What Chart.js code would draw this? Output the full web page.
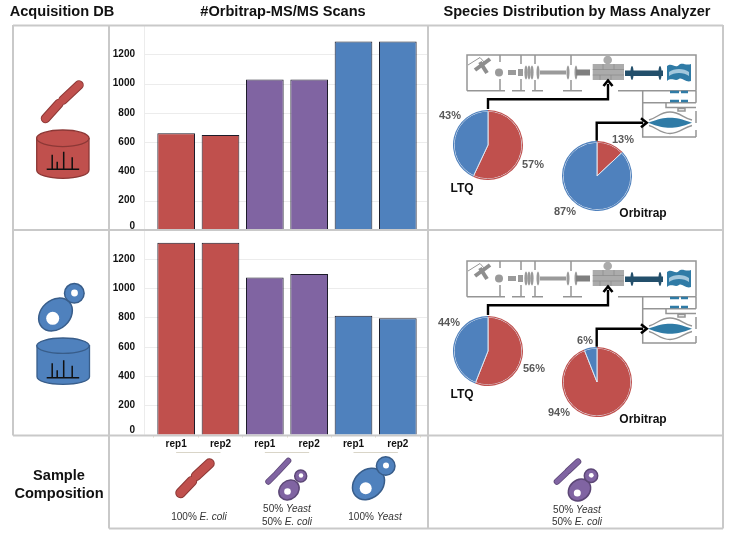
<!DOCTYPE html>
<html>
<head>
<meta charset="utf-8">
<title>Orbitrap MS/MS scans</title>
<script src="https://cdn.jsdelivr.net/npm/chart.js@4/dist/chart.umd.min.js"></script>
<style>
    html, body { margin: 0; padding: 0; background: #fff; }
    body { position: relative; width: 730px; height: 535px; overflow: hidden; font-family: "Liberation Sans", Arial, sans-serif; }
    canvas, svg { position: absolute; }
    .txt { position: absolute; white-space: nowrap; transform: translate(-50%, -50%); }
    .head { font-weight: bold; font-size: 14.6px; color: #111; }
    .side { font-weight: bold; font-size: 14.6px; color: #111; }
    .pct { font-weight: bold; font-size: 11px; color: #595959; }
    .name { font-weight: bold; font-size: 12px; color: #111; }
    .note { font-size: 10px; color: #333; }
    .note i { font-style: italic; }
</style>
</head>
<body>

<canvas id="barTop" width="318" height="215" style="left:110px;top:20px"></canvas>
<canvas id="barBottom" width="318" height="240" style="left:110px;top:225px"></canvas>
<canvas id="pieLtqTop" width="70" height="70" style="left:453px;top:110px"></canvas>
<canvas id="pieOrbiTop" width="70" height="70" style="left:562px;top:141px"></canvas>
<canvas id="pieLtqBottom" width="70" height="70" style="left:453px;top:316px"></canvas>
<canvas id="pieOrbiBottom" width="70" height="70" style="left:562px;top:347px"></canvas>

<svg width="730" height="535" style="left:0;top:0">
    <defs>
        <!-- mass spec schematic, drawn once and reused for both rows -->
        <g id="instrument" fill="none">
            <g stroke="#959595" stroke-width="1.5">
                <path d="M467 90.7V55H696V90.7"/>
                <path d="M467 90.7H505M512 90.7H525M532 90.7H543M563 90.7H582M618 90.7H696"/>
                <path d="M500 55V62M500 79V90.7M521 55V64M521 79V90.7M535 55V64M535 80V90.7M571 55V65M571 80V90.7"/>
                <path d="M642.7 90.7V137H696M642.7 102.7H696M696 90.7V102.7M696 111V123M696 130V137"/>
                <path d="M666 102.7V107.5H696M678 108.5H685V111H678Z"/>
                <path d="M468 65L480 57.5L485 63" stroke-width="1"/>
                <path d="M649 120C657 118 660 112 670 112C680 112 683 118 692 120" stroke-width="1.4"/>
                <path d="M649 125.500C657 127.500 660 133.500 670 133.500C680 133.500 683 127.500 692 125.500" stroke-width="1.4"/>
            </g>
            <g stroke="#8e8e8e" stroke-width="4">
                <path d="M475 70L490 59"/>
                <path d="M480 62L487 73"/>
            </g>
            <g fill="#9a9a9a">
                <circle cx="499" cy="72.5" r="4"/>
                <rect x="508" y="70" width="8" height="5"/>
                <rect x="518" y="69" width="5" height="7"/>
                <ellipse cx="526" cy="72.5" rx="1.6" ry="7"/>
                <ellipse cx="529" cy="72.5" rx="1.6" ry="7"/>
                <ellipse cx="532" cy="72.5" rx="1.6" ry="7"/>
                <ellipse cx="538" cy="72.5" rx="1.5" ry="7"/>
                <rect x="540" y="70.5" width="26" height="4"/>
                <ellipse cx="568" cy="72.5" rx="1.5" ry="7"/>
                <ellipse cx="576" cy="72.5" rx="1.5" ry="7"/>
                <rect x="576" y="69.5" width="14" height="6" fill="#7f7f7f"/>
                <circle cx="607.7" cy="60" r="4.3" fill="#ababab"/>
                <rect x="592.7" y="64" width="31.3" height="16" fill="#ababab"/>
            </g>
            <path d="M592.7 69.5H624M592.7 75H624M603 64V69.5M614 64V69.5M600 75V80M611 75V80" stroke="#8a8a8a" stroke-width="0.7"/>
            <rect x="625" y="70.5" width="38" height="5.5" fill="#234f6b"/>
            <ellipse cx="632" cy="73" rx="1.6" ry="7" fill="#234f6b"/>
            <ellipse cx="660" cy="73" rx="1.6" ry="7" fill="#234f6b"/>
            <path d="M667 66C672 62 675 69 679 65C682 62 686 66 691 64V81C686 83 682 77 679 79C675 82 672 77 667 81Z" fill="#2f7ba6"/>
            <path d="M669 72C674 68 684 68 689 72V76C684 72 674 72 669 76Z" fill="#a3c7dc"/>
            <path d="M670 92H679M681 92H688M670 101H679M681 101H688" stroke="#2f7ba6" stroke-width="2.4"/>
            <path d="M648 122.7C658 119 664 117.700 670 117.700C676 117.700 682 119 692 122.700C682 126.500 676 127.700 670 127.700C664 127.700 658 126.500 648 122.700Z" fill="#2f7ba6"/>

            <!-- arrows from the pies up to the analyzers -->
            <g stroke="#000" stroke-width="2.4">
                <path d="M488 109V99.3H608V84"/>
                <path d="M603.5 86L608 80.5L612.5 86" stroke-width="2.6"/>
                <path d="M596.7 140.7V122.7H643"/>
                <path d="M641 118.2L646.7 122.7L641 127.2" stroke-width="2.6"/>
            </g>
        </g>

        <g id="peaks" stroke="#111" stroke-width="1.5" fill="none">
            <path d="M0 0H32.5M5.5 0V-14.5M10.500 0V-7.500M17 0V-17.500M25.500 0V-12"/>
        </g>
    </defs>

    <use href="#instrument"/>
    <use href="#instrument" y="206"/>

    <!-- database cylinders -->
    <g stroke="#8c3836" stroke-width="1.3" fill="#c0504d">
        <path d="M36.700 138.300V170C36.700 174.800 48 178.300 62.800 178.300S89 174.800 89 170V138.300Z"/>
        <ellipse cx="62.800" cy="138.300" rx="26.200" ry="8.300"/>
    </g>
    <use href="#peaks" x="46.700" y="169.300"/>
    <g stroke="#385d8a" stroke-width="1.300" fill="#4f81bd">
        <path d="M37 345.700V376.700C37 381 48 384.300 63 384.300S89.500 381 89.500 376.700V345.700Z"/>
        <ellipse cx="63" cy="345.700" rx="26.200" ry="7.700"/>
    </g>
    <use href="#peaks" x="46.700" y="377.700"/>

    <!-- bacteria -->
    <g fill="none" stroke-linecap="round">
        <path d="M45.500 118.500L59 103.500M63 100L79 85" stroke="#8c3836" stroke-width="9.500"/>
        <path d="M45.500 118.500L59 103.500M63 100L79 85" stroke="#c0504d" stroke-width="7.500"/>
        <path d="M180.500 493L192 481M196 476L209.500 463.500" stroke="#8c3836" stroke-width="10.500"/>
        <path d="M180.500 493L192 481M196 476L209.500 463.500" stroke="#c0504d" stroke-width="8.500"/>
        <path d="M268.300 481.700L275 475M276.700 473.300L288.300 460.700" stroke="#5c4776" stroke-width="6"/>
        <path d="M268.300 481.700L275 475M276.700 473.300L288.300 460.700" stroke="#8064a2" stroke-width="4.500"/>
        <path d="M557 481.500L566 473M568 471L578 461.700" stroke="#5c4776" stroke-width="6.500"/>
        <path d="M557 481.500L566 473M568 471L578 461.700" stroke="#8064a2" stroke-width="5"/>
    </g>

    <!-- yeast cells -->
    <g stroke="#385d8a" stroke-width="1.500" fill="#4f81bd">
        <ellipse cx="55.500" cy="314.500" rx="18.500" ry="14.500" transform="rotate(-42 55.500 314.500)"/>
        <circle cx="74.300" cy="293.300" r="9.800"/>
        <ellipse cx="368.500" cy="484" rx="17.500" ry="14" transform="rotate(-42 368.500 484)"/>
        <circle cx="385.700" cy="466" r="9.300"/>
    </g>
    <g stroke="#5c4776" stroke-width="1.500" fill="#8064a2">
        <ellipse cx="289" cy="490" rx="11" ry="9" transform="rotate(-42 289 490)"/>
        <circle cx="300.700" cy="476" r="6"/>
        <ellipse cx="579.500" cy="490" rx="12" ry="10" transform="rotate(-42 579.500 490)"/>
        <circle cx="591" cy="475.700" r="6.700"/>
    </g>
    <g fill="#fff">
        <circle cx="74.500" cy="293" r="3.400"/>
        <circle cx="52.700" cy="318.300" r="6.500"/>
        <circle cx="386" cy="465.500" r="3"/>
        <circle cx="365.700" cy="488.300" r="6"/>
        <circle cx="301" cy="475.500" r="2.200"/>
        <circle cx="287.500" cy="491.500" r="3.300"/>
        <circle cx="591.300" cy="475.300" r="2.400"/>
        <circle cx="577.300" cy="493" r="3.500"/>
    </g>

    <!-- table frame -->
    <path d="M13 25.500H723M13 230H723M13 435.500H723M109 528.500H723M13 25V435.500M109 25V528.500M428 25V528.500M723 25V528.500"
          stroke="#c9c9c9" stroke-width="2" fill="none"/>
</svg>

<script>
// 1. Chart data
const repLabels = ['rep1', 'rep2', 'rep1', 'rep2', 'rep1', 'rep2'];
const scansEcoliDb = [660, 648, 1028, 1028, 1288, 1288];
const scansYeastDb = [1310, 1310, 1072, 1097, 812, 795];
const yTicks = [0, 200, 400, 600, 800, 1000, 1200];
const yMax = 1400;
const pieLtqEcoliDb = [57, 43];
const pieOrbiEcoliDb = [13, 87];
const pieLtqYeastDb = [56, 44];
const pieOrbiYeastDb = [94, 6];

// 2. Colours
const RED = '#C0504D';
const PURPLE = '#8064A2';
const BLUE = '#4F81BD';
const barColors = [RED, RED, PURPLE, PURPLE, BLUE, BLUE];
const FONT = 'Liberation Sans';

// Gridlines run wider than the category band, so they are drawn here from the y scale
const wideGrid = {
    id: 'wideGrid',
    beforeDatasetsDraw(chart) {
        const { ctx, scales } = chart;
        ctx.save();
        ctx.strokeStyle = '#ececec';
        ctx.lineWidth = 1;
        yTicks.forEach(t => {
            const y = Math.round(scales.y.getPixelForValue(t)) + 0.5;
            ctx.beginPath();
            ctx.moveTo(34, y);
            ctx.lineTo(chart.width, y);
            ctx.stroke();
        });
        ctx.beginPath();
        ctx.moveTo(34.5, scales.y.getPixelForValue(yMax));
        ctx.lineTo(34.5, scales.y.getPixelForValue(0));
        ctx.stroke();
        ctx.restore();
    }
};

// Light bracket under each pair of replicates
const repBrackets = {
    id: 'repBrackets',
    afterDraw(chart) {
        const { ctx, scales } = chart;
        ctx.save();
        ctx.strokeStyle = '#d9d5c8';
        ctx.lineWidth = 1;
        [[0, 1], [2, 3], [4, 5]].forEach(pair => {
            ctx.beginPath();
            ctx.moveTo(scales.x.getPixelForValue(pair[0]), 227.5);
            ctx.lineTo(scales.x.getPixelForValue(pair[1]), 227.5);
            ctx.stroke();
        });
        ctx.restore();
    }
};

function barChart(id, values, showLabels, padTop, padBottom, xHeight) {
    new Chart(document.getElementById(id), {
        type: 'bar',
        data: {
            labels: repLabels,
            datasets: [{
                data: values,
                backgroundColor: barColors,
                borderColor: '#1c1c2a',
                borderWidth: 1,
                barPercentage: 0.85,
                categoryPercentage: 1
            }]
        },
        options: {
            responsive: false,
            animation: false,
            layout: { padding: { top: padTop, bottom: padBottom, right: 8, left: 0 } },
            plugins: { legend: { display: false }, tooltip: { enabled: false } },
            scales: {
                x: {
                    display: showLabels,
                    afterFit: s => { s.height = xHeight; s.paddingLeft = 0; s.paddingRight = 0; },
                    border: { display: false },
                    grid: { drawOnChartArea: false, tickLength: 3, tickColor: '#e6e0d0' },
                    ticks: { color: '#111', padding: 1, maxRotation: 0, font: { family: FONT, size: 10, weight: 'bold' } }
                },
                y: {
                    min: 0,
                    max: yMax,
                    afterFit: s => { s.width = 44; s.paddingTop = 0; s.paddingBottom = 0; },
                    border: { display: false },
                    grid: { display: false, drawTicks: false },
                    ticks: {
                        stepSize: 200,
                        padding: 19,
                        color: '#111',
                        font: { family: FONT, size: 10, weight: 'bold', lineHeight: 0.8 },
                        // the zero label sits a little above its gridline, the top tick has none
                        callback: v => v === yMax ? '' : (v === 0 ? ['0', ''] : String(v))
                    }
                }
            }
        },
        plugins: showLabels ? [wideGrid, repBrackets] : [wideGrid]
    });
}

barChart('barTop', scansEcoliDb, false, 5, 5, 0);
barChart('barBottom', scansYeastDb, true, 4.5, 0, 30.3);

// 3. Pies: first value clockwise from twelve o'clock, thin outer ring gives the coloured rim
function pie(id, values, colors) {
    new Chart(document.getElementById(id), {
        type: 'pie',
        data: {
            datasets: [
                { data: values, backgroundColor: colors, borderWidth: 0, weight: 1 },
                { data: values, backgroundColor: colors, borderColor: '#dfe6f0', borderWidth: 1, weight: 30 }
            ]
        },
        options: {
            responsive: false,
            animation: false,
            plugins: { legend: { display: false }, tooltip: { enabled: false } }
        }
    });
}

pie('pieLtqTop', pieLtqEcoliDb, [RED, BLUE]);
pie('pieOrbiTop', pieOrbiEcoliDb, [RED, BLUE]);
pie('pieLtqBottom', pieLtqYeastDb, [RED, BLUE]);
pie('pieOrbiBottom', pieOrbiYeastDb, [RED, BLUE]);

// 4. Text
function addText(cls, x, y, html) {
    const el = document.createElement('div');
    el.className = 'txt ' + cls;
    el.style.left = x + 'px';
    el.style.top = y + 'px';
    el.innerHTML = html;
    document.body.appendChild(el);
}

addText('head', 62, 11, 'Acquisition DB');
addText('head', 283, 11, '#Orbitrap-MS/MS Scans');
addText('head', 577, 11, 'Species Distribution by Mass Analyzer');
addText('side', 59, 475, 'Sample');
addText('side', 59, 493, 'Composition');

addText('pct', 450, 115, pieLtqEcoliDb[1] + '%');
addText('pct', 533, 164, pieLtqEcoliDb[0] + '%');
addText('pct', 623, 139, pieOrbiEcoliDb[0] + '%');
addText('pct', 565, 211, pieOrbiEcoliDb[1] + '%');
addText('pct', 449, 322, pieLtqYeastDb[1] + '%');
addText('pct', 534, 368, pieLtqYeastDb[0] + '%');
addText('pct', 585, 340, pieOrbiYeastDb[1] + '%');
addText('pct', 559, 412, pieOrbiYeastDb[0] + '%');

addText('name', 462, 188, 'LTQ');
addText('name', 643, 213, 'Orbitrap');
addText('name', 462, 394, 'LTQ');
addText('name', 643, 419, 'Orbitrap');

addText('note', 199, 516, '100% <i>E. coli</i>');
addText('note', 287, 508, '50% <i>Yeast</i>');
addText('note', 287, 521, '50% <i>E. coli</i>');
addText('note', 375, 516, '100% <i>Yeast</i>');
addText('note', 577, 509, '50% <i>Yeast</i>');
addText('note', 577, 521, '50% <i>E. coli</i>');
</script>
</body>
</html>
